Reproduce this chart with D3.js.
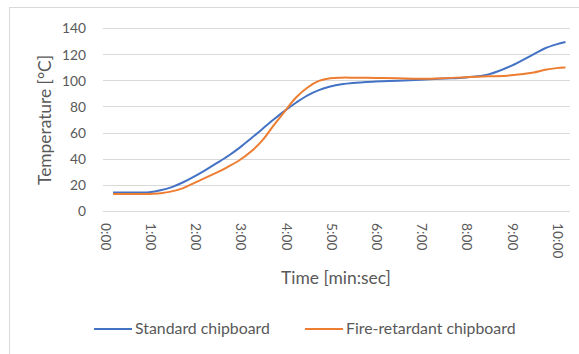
<!DOCTYPE html>
<html><head><meta charset="utf-8">
<script src="https://cdn.jsdelivr.net/npm/d3@7"></script>
<style>body{margin:0;background:#fff}svg{display:block}text{font-family:Lato,"Open Sans",sans-serif;fill:#595959}</style>
</head><body><svg id="c" width="579" height="354"></svg>
<script>
const timesSec = [12,30,60,75,90,105,120,135,150,165,180,195,210,225,240,255,270,285,300,315,330,360,390,420,450,480,510,540,570,585,600,612];
const standard = [14.2,14.2,14.4,15.8,18.3,22,26.5,31.5,36.8,42.3,48.5,55.5,62.8,70,76.8,83,88.5,92.5,95.2,97,98,99,99.7,100.5,101.3,102.2,104.5,111,120,124.5,127.5,129.3];
const fireRetardant = [13,13,13.1,13.6,15,17.5,21.5,25.5,29.5,34,39,45.5,54,65.5,76.5,87,94.5,99.5,101.5,102,102,101.8,101.5,101.2,101.6,102.4,103,103.8,106,108,109.3,109.7];
const xTickLabels = ["0:00","1:00","2:00","3:00","4:00","5:00","6:00","7:00","8:00","9:00","10:00"];
const yTicks = [0,20,40,60,80,100,120,140];
const seriesNames = ["Standard chipboard","Fire-retardant chipboard"];
const colors = ["#4472C4","#ED7D31"];

function fit(sel, w, base){
  sel.style("font-size", base+"px");
  const n = sel.node(); const L = n.getComputedTextLength();
  if (L>0) sel.style("font-size", (base*w/L).toFixed(2)+"px");
}

const svg = d3.select("#c");
svg.append("rect").attr("x",9.5).attr("y",7.5).attr("width",600).attr("height",400).attr("fill","none").attr("stroke","#d9d9d9");

const x = d3.scaleLinear().domain([0,618]).range([104,570]);
const y = d3.scaleLinear().domain([0,140]).range([211,28]);

svg.append("g").selectAll("line").data(yTicks).join("line")
  .attr("x1",103).attr("x2",570).attr("y1",d=>Math.round(y(d))+0.5).attr("y2",d=>Math.round(y(d))+0.5)
  .attr("stroke","#d9d9d9").attr("stroke-width",1);

const yAxis = svg.append("g").attr("transform","translate(103,0)")
  .call(d3.axisLeft(y).tickValues(yTicks).tickSize(0).tickPadding(17));
yAxis.select(".domain").remove();
yAxis.selectAll("text").attr("fill","#595959").attr("dy","0.36em");
const t140 = yAxis.selectAll("text").filter(d=>d===140);
fit(t140, 24, 15);
const tickFs = t140.style("font-size");
yAxis.selectAll("text").style("font-size", tickFs);

const xAxis = svg.append("g").attr("transform","translate(0,211)")
  .call(d3.axisBottom(x).tickValues(xTickLabels.map((d,i)=>i*60)).tickFormat((d,i)=>xTickLabels[i]).tickSize(0));
xAxis.select(".domain").remove();
xAxis.selectAll("text").style("font-size", tickFs).attr("fill","#595959")
  .attr("text-anchor","start").attr("dy","0.36em").attr("transform","translate(1,12) rotate(90)").attr("x",0).attr("y",0);

const line = d3.line().x((d,i)=>x(timesSec[i])).y(d=>y(d)).curve(d3.curveCatmullRom.alpha(0.5));
[standard,fireRetardant].forEach((s,k)=>{
  svg.append("path").datum(s).attr("d",line).attr("fill","none").attr("stroke",colors[k]).attr("stroke-width",2).attr("stroke-linejoin","round");
});

const yt = svg.append("text").attr("transform","translate(51,120) rotate(-90)").attr("text-anchor","middle").text("Temperature [°C]");
fit(yt, 130, 16);
const xt = svg.append("text").attr("x",336).attr("y",284).attr("text-anchor","middle").text("Time [min:sec]");
fit(xt, 110, 16);

const legX = [94,305];
let legFs = null;
seriesNames.forEach((n,k)=>{
  svg.append("line").attr("x1",legX[k]).attr("x2",legX[k]+38).attr("y1",329).attr("y2",329).attr("stroke",colors[k]).attr("stroke-width",2);
  const t = svg.append("text").attr("x",legX[k]+41).attr("y",334).text(n);
  if (k===0){ fit(t,135,15); legFs = t.style("font-size"); } else t.style("font-size", legFs);
});
</script></body></html>
